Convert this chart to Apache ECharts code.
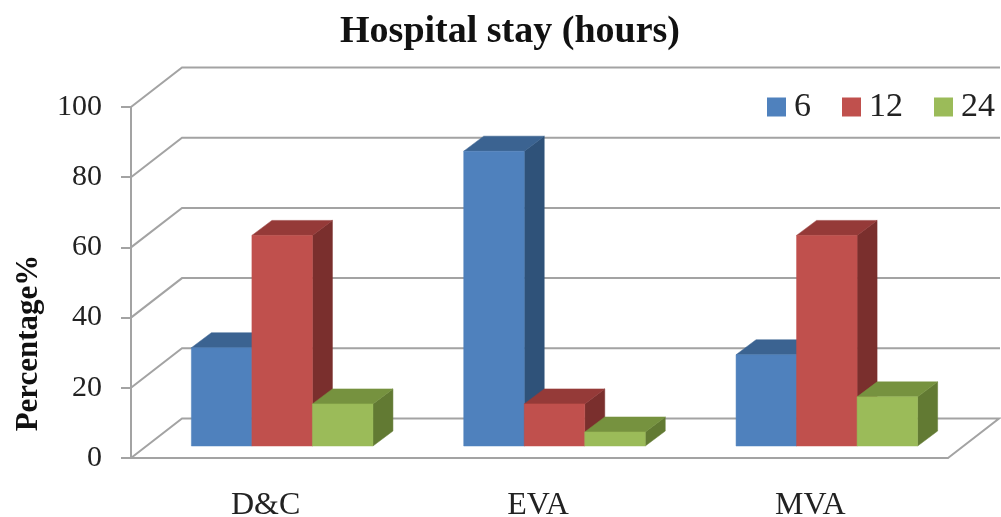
<!DOCTYPE html>
<html>
<head>
<meta charset="utf-8">
<style>html,body{margin:0;padding:0;background:#fff}#chart{width:1001px;height:517px}</style>
<script src="https://cdn.jsdelivr.net/npm/echarts@6/dist/echarts.min.js"></script>
</head>
<body>
<div id="chart"></div>
<script>
const categories = ['D&C', 'EVA', 'MVA'];
const stay6h = [28, 84, 26];
const stay12h = [60, 12, 60];
const stay24h = [12, 4, 14];
const yTicks = [0, 20, 40, 60, 80, 100];

const SERIF = '"Liberation Serif", "Times New Roman", serif';
const GRID_LINE = '#a3a3a3';

// Oblique projection of the chart box: wall depth, bar plane shift, bar depth
const WALL = [51, -39.5];
const PLANE = [15, -12];
const DEPTH = [20, -15];

// Back wall and floor: each tick runs diagonally into the box, then along the wall
function renderWall(params, api) {
  const cs = params.coordSys;
  const y = api.coord([0, api.value(1)])[1];
  const left = cs.x, right = cs.x + cs.width;
  const isFloor = api.value(1) === 0;
  const shape = { points: [[left, y], [left + WALL[0], y + WALL[1]],
    [isFloor ? right + WALL[0] : 1000, y + WALL[1]]] };
  if (isFloor) shape.points.push([right, y]);
  return {
    type: 'polyline',
    shape,
    style: { stroke: GRID_LINE, lineWidth: 2, fill: null }
  };
}

// One cuboid bar: front, top and side faces from the value's position on the axis
function cuboid(slot, front, top, side) {
  return function (params, api) {
    const p = api.coord([api.value(0), api.value(1)]);
    const base = api.coord([api.value(0), 0]);
    const band = api.size([1, 0])[0];
    const w = band * 2 / 9;
    const x0 = p[0] + PLANE[0] + (slot - 1.5) * w;
    const x1 = x0 + w;
    const yT = p[1] + PLANE[1];
    const yB = base[1] + PLANE[1];
    const dx = DEPTH[0], dy = DEPTH[1];
    const face = (pts, color) => ({
      type: 'polygon',
      shape: { points: pts },
      style: { fill: color, stroke: color, lineWidth: 0.5 }
    });
    return {
      type: 'group',
      children: [
        face([[x1, yT], [x1 + dx, yT + dy], [x1 + dx, yB + dy], [x1, yB]], side),
        face([[x0, yT], [x0 + dx, yT + dy], [x1 + dx, yT + dy], [x1, yT]], top),
        face([[x0, yT], [x1, yT], [x1, yB], [x0, yB]], front)
      ]
    };
  };
}

function barSeries(name, values, slot, front, top, side) {
  return {
    type: 'custom',
    name,
    coordinateSystem: 'cartesian2d',
    clip: false,
    itemStyle: { color: front },
    encode: { x: 0, y: 1 },
    data: values.map((v, i) => [i, v]),
    renderItem: cuboid(slot, front, top, side)
  };
}

const chart = echarts.init(document.getElementById('chart'), null, { renderer: 'canvas' });
chart.setOption({
  animation: false,
  backgroundColor: '#fff',
  title: {
    text: 'Hospital stay (hours)',
    left: 505, top: 8, textAlign: 'center',
    textStyle: { fontFamily: SERIF, fontWeight: 'bold', fontSize: 38, color: '#111' }
  },
  legend: {
    left: 767, top: 90,
    padding: 0,
    itemWidth: 19, itemHeight: 19, itemGap: 31,
    icon: 'rect',
    data: ['6', '12', '24'],
    textStyle: { fontFamily: SERIF, fontSize: 34, color: '#222', padding: [5, 0, 0, 3] }
  },
  grid: { left: 131, right: 53, top: 107, height: 351, outerBoundsMode: 'none' },
  xAxis: {
    type: 'category',
    data: categories,
    axisTick: { show: false },
    axisLine: { lineStyle: { color: GRID_LINE, width: 2 } },
    axisLabel: { fontFamily: SERIF, fontSize: 32, color: '#222', margin: 32, padding: [0, 3, 0, 0] }
  },
  yAxis: {
    type: 'value',
    min: 0, max: 100, interval: 20,
    splitLine: { show: false },
    axisLine: { show: true, lineStyle: { color: GRID_LINE, width: 2 } },
    axisTick: { show: true, length: 10, lineStyle: { color: GRID_LINE, width: 2 } },
    axisLabel: { fontFamily: SERIF, fontSize: 30, color: '#222', margin: 29 }
  },
  graphic: [{
    type: 'text',
    x: 29, y: 343,
    rotation: Math.PI / 2,
    style: {
      text: 'Percentage%',
      fontFamily: SERIF, fontWeight: 'bold', fontSize: 31, fill: '#111',
      textAlign: 'center', textVerticalAlign: 'middle'
    }
  }],
  series: [
    {
      type: 'custom',
      name: 'walls',
      coordinateSystem: 'cartesian2d',
      clip: false,
      silent: true,
      encode: { x: 0, y: 1 },
      data: yTicks.map(v => [0, v]),
      renderItem: renderWall
    },
    barSeries('6', stay6h, 0, '#4F81BD', '#3B6391', '#2F5279'),
    barSeries('12', stay12h, 1, '#C0504D', '#953A38', '#7A2F2D'),
    barSeries('24', stay24h, 2, '#9BBB59', '#76923F', '#627A33')
  ]
});
</script>
</body>
</html>
